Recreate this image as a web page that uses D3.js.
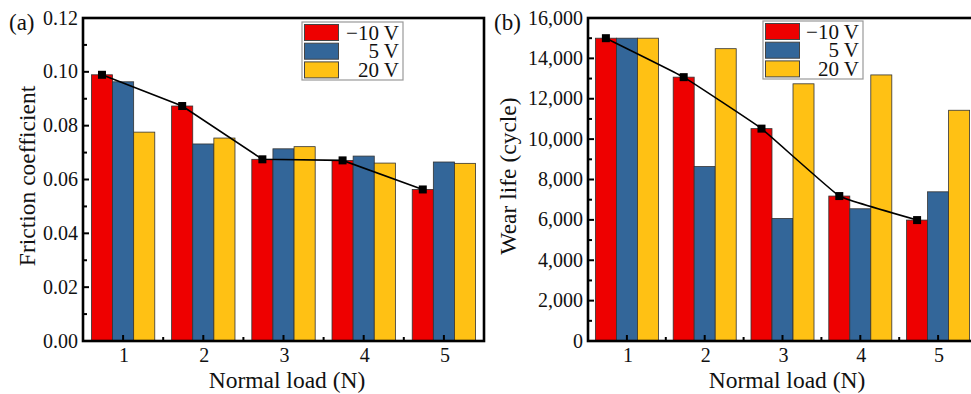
<!DOCTYPE html>
<html><head><meta charset="utf-8">
<script src="https://cdn.jsdelivr.net/npm/d3@7"></script>
<style>body{margin:0;background:#fff;}svg text{font-family:"Liberation Serif","Times New Roman",Times,serif;}</style>
</head><body>
<svg id="c" width="971" height="394"></svg>
<script>
const categories = ["1","2","3","4","5"];
const seriesNames = ["\u221210 V","5 V","20 V"];
const colors = ["#ee0000","#336699","#ffc114"];
const frictionNeg10 = [0.0989,0.0873,0.0675,0.0671,0.0563];
const friction5 = [0.0963,0.0732,0.0714,0.0687,0.0665];
const friction20 = [0.0776,0.0754,0.0722,0.0661,0.0660];
const wearNeg10 = [15000,13070,10520,7180,5990];
const wear5 = [15000,8640,6070,6550,7390];
const wear20 = [15000,14480,12740,13180,11430];
const frictionTicks = [0,0.02,0.04,0.06,0.08,0.10,0.12];
const wearTicks = [0,2000,4000,6000,8000,10000,12000,14000,16000];

const svg = d3.select("#c");
const FF = "Liberation Serif";
const TC = "#111";

function panel(cfg){
  const g = svg.append("g");
  const x = d3.scaleBand().domain(categories).range([cfg.x0,cfg.x1]).paddingInner(cfg.pad).paddingOuter(cfg.pad/2);
  const step = (cfg.x1-cfg.x0)/categories.length;
  const xs = d3.scaleBand().domain(seriesNames).range([0,x.bandwidth()]);
  const y = d3.scaleLinear().domain(cfg.ydom).range([cfg.yb,cfg.yt]);
  const series = cfg.data;
  series.forEach((vals,si)=>{
    g.selectAll(null).data(vals).enter().append("rect")
      .attr("x",(d,i)=>x(categories[i])+xs(seriesNames[si]))
      .attr("width",xs.bandwidth())
      .attr("y",d=>y(d)).attr("height",d=>y(cfg.ydom[0])-y(d))
      .attr("fill",colors[si]).attr("stroke","#333").attr("stroke-width",0.8);
  });
  categories.forEach((c,i)=>{
    const cx = x(c)+x.bandwidth()/2;
    g.append("line").attr("x1",cx).attr("x2",cx).attr("y1",cfg.yb).attr("y2",cfg.yb-6).attr("stroke","#000").attr("stroke-width",2);
    const bx = cfg.x0+step*(i+1);
    if(i<categories.length-1) g.append("line").attr("x1",bx).attr("x2",bx).attr("y1",cfg.yb).attr("y2",cfg.yb-4).attr("stroke","#000").attr("stroke-width",2);
  });
  for(let k=0;k<cfg.yticks.length;k++){
    const v=cfg.yticks[k];
    g.append("line").attr("x1",cfg.x0).attr("x2",cfg.x0+6).attr("y1",y(v)).attr("y2",y(v)).attr("stroke","#000").attr("stroke-width",2);
    if(k<cfg.yticks.length-1){
      const m=(v+cfg.yticks[k+1])/2;
      g.append("line").attr("x1",cfg.x0).attr("x2",cfg.x0+4).attr("y1",y(m)).attr("y2",y(m)).attr("stroke","#000").attr("stroke-width",2);
    }
    g.append("text").attr("font-family",FF).attr("x",cfg.x0-5).attr("y",y(v)+6.5).attr("text-anchor","end").attr("font-size",20).attr("fill",TC).text(cfg.fmt(v));
  }
  categories.forEach(c=>{
    g.append("text").attr("font-family",FF).attr("x",x(c)+x.bandwidth()/2+1).attr("y",362).attr("text-anchor","middle").attr("font-size",20).attr("fill",TC).text(c);
  });
  const pts = series[0].map((d,i)=>[x(categories[i])+xs(seriesNames[0])+xs.bandwidth()/2, y(d)]);
  g.append("path").attr("d",d3.line().curve(cfg.curve)(pts)).attr("fill","none").attr("stroke","#000").attr("stroke-width",1.6);
  g.selectAll(null).data(pts).enter().append("rect").attr("x",d=>d[0]-4).attr("y",d=>d[1]-4).attr("width",8).attr("height",8).attr("fill","#000");
  g.append("rect").attr("x",cfg.x0).attr("y",cfg.yt).attr("width",cfg.x1-cfg.x0).attr("height",cfg.yb-cfg.yt).attr("fill","none").attr("stroke","#000").attr("stroke-width",2.6);
  const L = cfg.leg;
  g.append("rect").attr("x",L.x).attr("y",L.y).attr("width",L.w).attr("height",58).attr("fill","#fff").attr("stroke","#999").attr("stroke-width",1.2);
  seriesNames.forEach((s,i)=>{
    g.append("rect").attr("x",L.x+2.5).attr("y",L.y+2.5+i*18.7).attr("width",34).attr("height",16).attr("fill",colors[i]).attr("stroke","#444").attr("stroke-width",1);
    g.append("text").attr("font-family",FF).attr("x",L.x+L.w-4).attr("y",L.y+17.5+i*18.7).attr("text-anchor","end").attr("font-size",21).attr("fill",TC).text(s);
  });
  g.append("text").attr("font-family",FF).attr("transform",`translate(${cfg.ytx},176) rotate(-90)`).attr("text-anchor","middle").attr("font-size",23.5).attr("fill",TC).text(cfg.ytitle);
  g.append("text").attr("font-family",FF).attr("x",cfg.xtx).attr("y",388).attr("text-anchor","middle").attr("font-size",23.5).attr("fill",TC).text("Normal load (N)");
  g.append("text").attr("font-family",FF).attr("x",cfg.lx).attr("y",30).attr("font-size",23).attr("fill",TC).text(cfg.label);
}

panel({x0:83,x1:484,yt:18,yb:341,pad:0.21,ydom:[0,0.12],yticks:frictionTicks,fmt:d3.format(".2f"),
  data:[frictionNeg10,friction5,friction20],curve:d3.curveLinear,
  leg:{x:302,y:22,w:101},ytitle:"Friction coefficient",ytx:35,xtx:287,lx:9,label:"(a)"});
panel({x0:588,x1:977,yt:18,yb:341,pad:0.19,ydom:[0,16000],yticks:wearTicks,fmt:d3.format(","),
  data:[wearNeg10,wear5,wear20],curve:d3.curveCardinal.tension(0.75),
  leg:{x:763,y:21,w:100},ytitle:"Wear life (cycle)",ytx:516,xtx:787,lx:494,label:"(b)"});
</script>
</body></html>
